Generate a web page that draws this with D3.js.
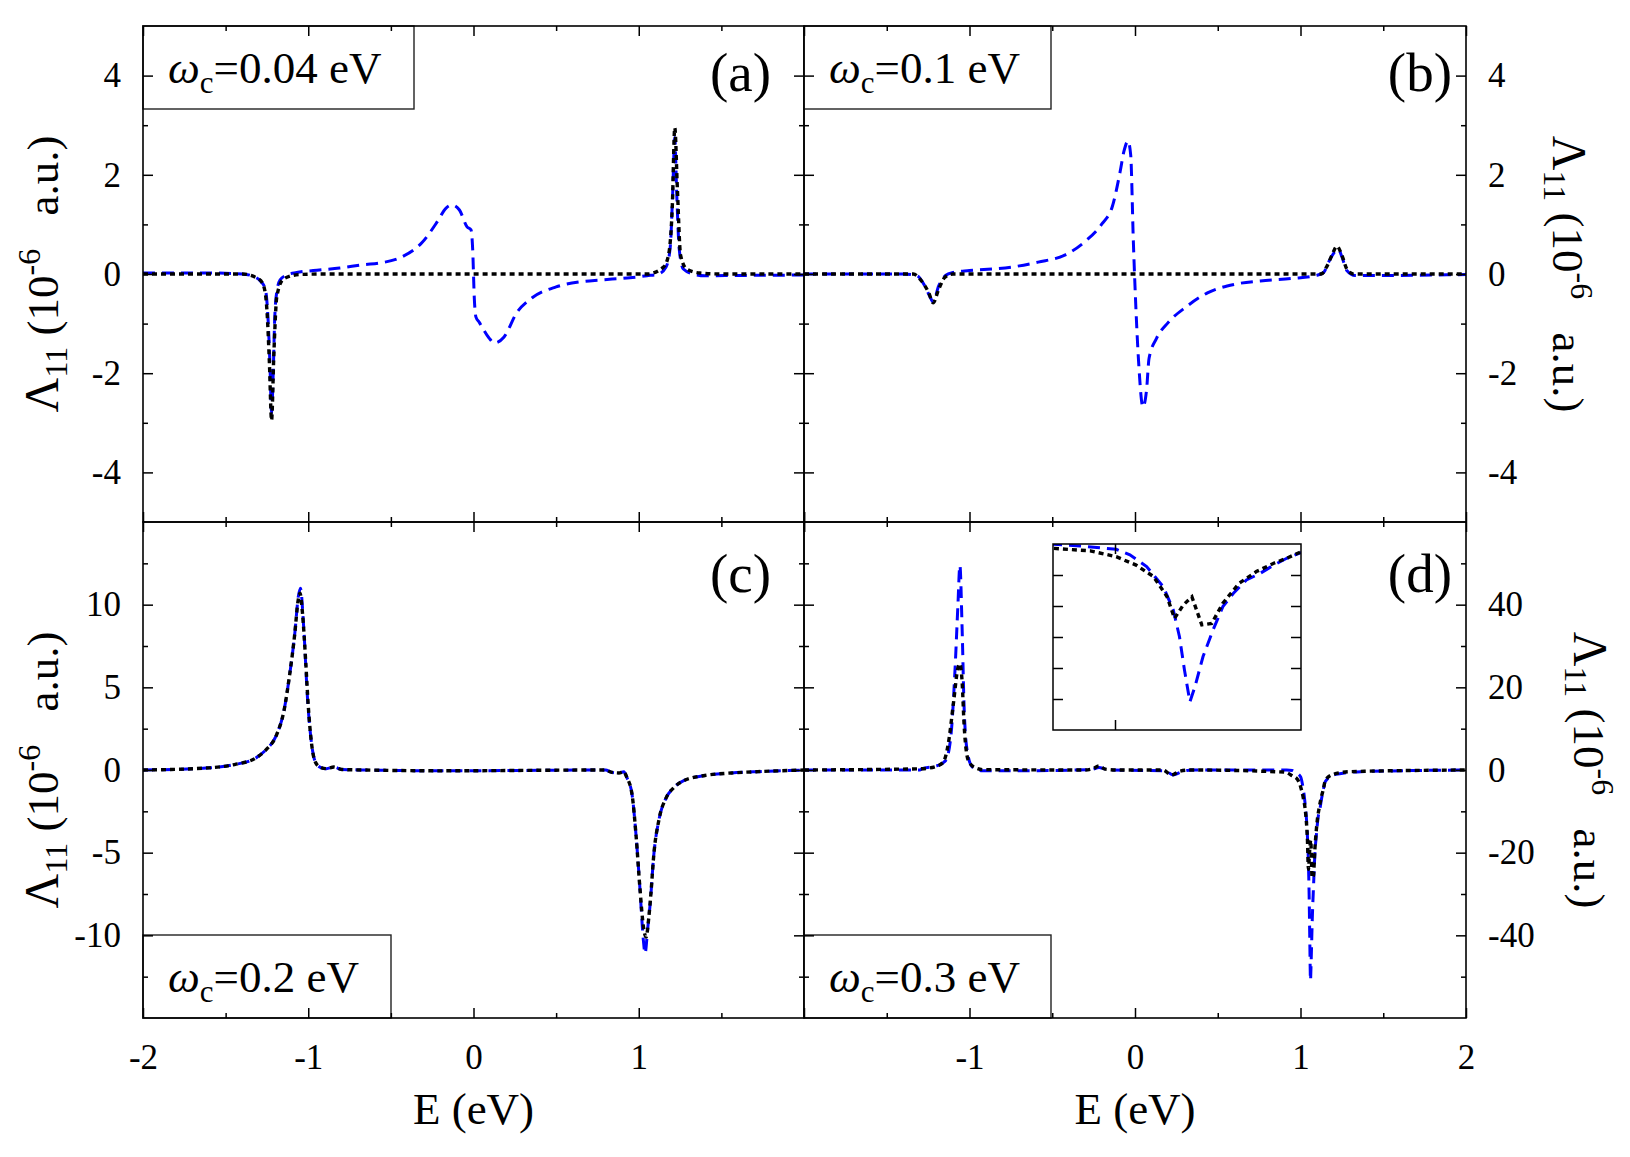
<!DOCTYPE html>
<html>
<head>
<meta charset="utf-8">
<script src="https://cdn.jsdelivr.net/npm/d3@7"></script>
<style>
  body { margin: 0; background: #fff; }
  svg text { font-family: "Liberation Serif", "Times New Roman", Times, serif !important; fill: #000; }
</style>
</head>
<body>
<div id="chart"></div>
<script>
// ---- data: [E (eV), Lambda_11 (1e-6 a.u.)] ----
const blueA = [[-2,0.02],[-1.6,0.02],[-1.4,0.0],[-1.33,-0.05],[-1.29,-0.14],[-1.26,-0.3],[-1.245,-0.8],[-1.232,-1.8],
  [-1.222,-2.8],[-1.212,-2.0],[-1.203,-0.9],[-1.19,-0.35],[-1.17,-0.12],[-1.13,-0.02],[-1.07,0.03],[-0.97,0.07],
  [-0.81,0.12],[-0.66,0.19],[-0.57,0.22],[-0.43,0.35],[-0.31,0.64],[-0.22,1.05],[-0.166,1.33],[-0.13,1.39],
  [-0.085,1.29],[-0.039,0.95],[-0.015,0.89],[-0.005,0.5],[0.005,-0.5],[0.015,-0.87],[0.034,-0.97],[0.094,-1.29],
  [0.125,-1.39],[0.185,-1.27],[0.26,-0.79],[0.355,-0.48],[0.5,-0.26],[0.64,-0.16],[0.77,-0.12],[0.93,-0.08],
  [1.05,-0.035],[1.12,0.0],[1.165,0.14],[1.19,0.52],[1.205,1.6],[1.218,2.75],[1.23,1.6],[1.245,0.5],[1.27,0.1],
  [1.33,0.0],[1.4,-0.035],[1.6,-0.03],[2,-0.02]];
const blackA = [[-2,0],[-1.4,0],[-1.3,-0.1],[-1.27,-0.24],[-1.25,-0.73],[-1.235,-1.8],[-1.222,-2.95],[-1.208,-1.6],
  [-1.19,-0.45],[-1.15,-0.1],[-1.05,-0.01],[-0.9,0],[1.05,0],[1.15,0.14],[1.18,0.38],[1.203,1.36],[1.218,2.95],
  [1.234,1.7],[1.253,0.38],[1.29,0.1],[1.37,0.02],[1.5,0],[2,0]];

const blueB = [[-2,0],[-1.4,0],[-1.32,-0.03],[-1.27,-0.24],[-1.24,-0.45],[-1.22,-0.56],[-1.186,-0.24],[-1.145,-0.03],
  [-1.1,0.03],[-1.0,0.07],[-0.745,0.14],[-0.585,0.24],[-0.425,0.38],[-0.3,0.66],[-0.2,1.01],[-0.137,1.36],
  [-0.09,2.06],[-0.067,2.47],[-0.042,2.68],[-0.026,2.4],[-0.01,0.66],[0.006,-0.73],[0.022,-1.78],[0.048,-2.68],
  [0.07,-2.33],[0.085,-1.7],[0.13,-1.3],[0.2,-0.98],[0.31,-0.66],[0.438,-0.38],[0.598,-0.21],[0.757,-0.14],
  [0.949,-0.09],[1.093,-0.03],[1.14,0.03],[1.17,0.24],[1.208,0.45],[1.23,0.49],[1.25,0.35],[1.28,0.07],
  [1.33,-0.03],[1.5,-0.03],[2,-0.01]];
const blackB = [[-2,0],[-1.34,0],[-1.29,-0.14],[-1.246,-0.38],[-1.22,-0.58],[-1.186,-0.31],[-1.15,-0.07],[-1.1,0],
  [1.125,0],[1.157,0.14],[1.19,0.38],[1.22,0.56],[1.25,0.38],[1.28,0.1],[1.32,0],[2,0]];

const blueC = [[-2,0],[-1.6,0.13],[-1.446,0.33],[-1.32,0.71],[-1.256,1.22],[-1.193,2.1],[-1.146,3.63],[-1.114,5.66],
  [-1.082,8.2],[-1.06,10.5],[-1.047,11.0],[-1.028,8.7],[-1.003,4.1],[-0.98,1.6],[-0.956,0.46],[-0.924,0.15],
  [-0.89,0.08],[-0.845,0.18],[-0.797,0.03],[-0.655,0],[-0.2,-0.05],[0.8,0],[0.832,-0.13],[0.88,-0.18],[0.91,-0.1],
  [0.927,-0.43],[0.959,-1.45],[0.984,-4],[1.006,-7.0],[1.028,-10.3],[1.038,-11.1],[1.055,-9.5],[1.07,-8.0],
  [1.09,-5.25],[1.123,-2.97],[1.165,-1.7],[1.212,-1.07],[1.275,-0.63],[1.4,-0.33],[1.56,-0.18],[1.72,-0.1],[2,0]];
const blackC = [[-2,0],[-1.6,0.13],[-1.446,0.33],[-1.32,0.71],[-1.256,1.22],[-1.193,2.1],[-1.146,3.63],[-1.114,5.66],
  [-1.082,8.2],[-1.062,10.2],[-1.05,10.7],[-1.035,9.5],[-1.015,6.5],[-1.0,3.9],[-0.98,1.6],[-0.956,0.46],
  [-0.924,0.15],[-0.89,0.08],[-0.845,0.18],[-0.797,0.03],[-0.655,0],[-0.2,-0.05],[0.8,0],[0.832,-0.13],
  [0.88,-0.18],[0.91,-0.1],[0.927,-0.43],[0.959,-1.45],[0.984,-4],[1.006,-7.0],[1.03,-9.6],[1.045,-10.1],
  [1.06,-9.0],[1.075,-7.3],[1.09,-5.25],[1.123,-2.97],[1.165,-1.7],[1.212,-1.07],[1.275,-0.63],[1.4,-0.33],
  [1.56,-0.18],[1.72,-0.1],[2,0]];

const blueD = [[-2,0],[-1.3,0],[-1.288,0.3],[-1.19,1.1],[-1.144,2.3],[-1.112,8.4],[-1.087,24.7],[-1.07,39.9],
  [-1.058,49.5],[-1.045,34.8],[-1.032,14.5],[-1.013,4.4],[-0.984,0.8],[-0.92,-0.2],[-0.745,-0.2],[-0.265,0.1],
  [-0.217,0.6],[-0.185,0.3],[-0.137,0],[0.182,-0.2],[0.23,-1.2],[0.278,-0.5],[0.342,0],[0.917,0],
  [0.95,-0.1],[0.972,-0.65],[1.001,-1.7],[1.012,-3.5],[1.0255,-7.3],[1.039,-13.8],[1.047,-21.3],[1.052,-29.9],
  [1.056,-40.6],[1.0604,-50.9],[1.0645,-46],[1.071,-36.3],[1.079,-27.8],[1.087,-20.2],[1.0955,-15.9],
  [1.106,-11.6],[1.117,-9.5],[1.128,-6.8],[1.1385,-4.6],[1.15,-2.8],[1.2,-1.2],[1.237,-0.9],[1.365,-0.4],[2,0]];
const blackD = [[-2,0],[-1.29,0.3],[-1.208,0.8],[-1.16,1.8],[-1.128,6.4],[-1.096,16.5],[-1.07,24.7],[-1.058,25.7],
  [-1.045,21.6],[-1.032,10.5],[-1.007,2.3],[-0.968,0.6],[-0.92,0.1],[-0.3,0],[-0.25,0.4],[-0.217,1.0],[-0.18,0.2],
  [-0.1,0],[0.17,0],[0.22,-1.2],[0.27,-0.3],[0.33,0],[0.9,-0.5],[0.95,-1.4],[0.98,-2.2],[1.001,-4.1],
  [1.017,-6.8],[1.031,-10.5],[1.042,-17],[1.048,-24],[1.055,-19.7],[1.062,-17],[1.07,-26.1],[1.078,-25.6],
  [1.087,-19.1],[1.1,-12.7],[1.114,-8.9],[1.128,-6.2],[1.1385,-4.6],[1.15,-2.5],[1.2,-1.0],[1.3,-0.4],[2,0]];

// ticks and labels
const xMajor = [-2, -1, 0, 1, 2];
const xMinor = [-1.5, -0.5, 0.5, 1.5];
const xLabelsLeft = [-2, -1, 0, 1];
const xLabelsRight = [-1, 0, 1, 2];
const yMajorTop = [-4, -2, 0, 2, 4];
const yMinorTop = [-3, -1, 1, 3];
const yMajorC = [-10, -5, 0, 5, 10];
const yMinorC = [-12.5, -7.5, -2.5, 2.5, 7.5, 12.5];
const yMajorD = [-40, -20, 0, 20, 40];
const yMinorD = [-50, -30, -10, 10, 30, 50];
const insetYTicks = [-50, -40, -30, -20, -10];
const insetXTicks = [1.0];
const wcLabels = ["0.04", "0.1", "0.2", "0.3"];
const panelTags = ["(a)", "(b)", "(c)", "(d)"];

// ---- layout ----
const W = 1630, H = 1157;
const X0 = 143, XM = 804, X1 = 1466;
const Y0 = 26, YM = 522, Y1 = 1018;
const BLUE = "#0000ff";
const SERIF = '"Liberation Serif", "Times New Roman", Times, serif';

const svg = d3.select("#chart").append("svg")
  .attr("width", W).attr("height", H)
  .attr("font-family", SERIF);

const panels = [
  {id: "a", x0: X0, x1: XM, y0: Y0, y1: YM, dom: [-5, 5], yMaj: yMajorTop, yMin: yMinorTop,
   blue: blueA, black: blackA, side: "left", xLab: null, tag: panelTags[0], tagDy: 65,
   wc: wcLabels[0], box: {w: 271, top: true}},
  {id: "b", x0: XM, x1: X1, y0: Y0, y1: YM, dom: [-5, 5], yMaj: yMajorTop, yMin: yMinorTop,
   blue: blueB, black: blackB, side: "right", xLab: null, tag: panelTags[1], tagDy: 65,
   wc: wcLabels[1], box: {w: 247, top: true}},
  {id: "c", x0: X0, x1: XM, y0: YM, y1: Y1, dom: [-15, 15], yMaj: yMajorC, yMin: yMinorC,
   blue: blueC, black: blackC, side: "left", xLab: xLabelsLeft, tag: panelTags[2], tagDy: 70,
   wc: wcLabels[2], box: {w: 248, top: false}},
  {id: "d", x0: XM, x1: X1, y0: YM, y1: Y1, dom: [-60, 60], yMaj: yMajorD, yMin: yMinorD,
   blue: blueD, black: blackD, side: "right", xLab: xLabelsRight, tag: panelTags[3], tagDy: 70,
   wc: wcLabels[3], box: {w: 247, top: false}}
];

function styleAxis(sel) {
  sel.attr("font-family", SERIF);
  sel.select(".domain").remove();
  sel.selectAll(".tick line").attr("stroke", "#000").attr("stroke-width", 1.5);
  sel.selectAll(".tick text").style("font-size", "35px").style("font-family", SERIF).attr("fill", "#000");
}

function drawCurves(g, x, y, blue, black, clipId, curve) {
  const line = d3.line().x(d => x(d[0])).y(d => y(d[1])).curve(curve);
  g.append("path").datum(blue)
    .attr("d", line).attr("clip-path", `url(#${clipId})`)
    .attr("fill", "none").attr("stroke", BLUE).attr("stroke-width", 3)
    .attr("stroke-dasharray", "12,7");
  g.append("path").datum(black)
    .attr("d", line).attr("clip-path", `url(#${clipId})`)
    .attr("fill", "none").attr("stroke", "#000").attr("stroke-width", 3.4)
    .attr("stroke-dasharray", "5,4");
}

panels.forEach(p => {
  const g = svg.append("g").attr("class", "panel-" + p.id);
  const x = d3.scaleLinear().domain([-2, 2]).range([p.x0, p.x1]);
  const y = d3.scaleLinear().domain(p.dom).range([p.y1, p.y0]);

  const clipId = "clip-" + p.id;
  svg.append("defs").append("clipPath").attr("id", clipId)
    .append("rect").attr("x", p.x0).attr("y", p.y0)
    .attr("width", p.x1 - p.x0).attr("height", p.y1 - p.y0);

  drawCurves(g, x, y, p.blue, p.black, clipId, d3.curveMonotoneX);

  // omega_c label box
  const bx = p.x0, by = p.box.top ? p.y0 : p.y1 - 83;
  g.append("rect").attr("x", bx).attr("y", by).attr("width", p.box.w).attr("height", 83)
    .attr("fill", "#fff").attr("stroke", "#222").attr("stroke-width", 1.4);
  const t = g.append("text").attr("x", bx + 25).attr("y", by + 57)
    .style("font-size", "45px").style("font-family", SERIF);
  t.append("tspan").attr("font-style", "italic").text("ω");
  t.append("tspan").attr("dy", 10).style("font-size", "31px").text("c");
  t.append("tspan").attr("dy", -10).text("=" + p.wc + " eV");

  // inset in (d)
  if (p.id === "d") {
    const ix = d3.scaleLinear().domain([0.95, 1.15]).range([1053, 1301]);
    const iy = d3.scaleLinear().domain([-60, 0]).range([730, 544]);
    svg.append("defs").append("clipPath").attr("id", "clip-inset")
      .append("rect").attr("x", 1053).attr("y", 544).attr("width", 248).attr("height", 186);
    const gi = g.append("g");
    gi.append("rect").attr("x", 1053).attr("y", 544).attr("width", 248).attr("height", 186)
      .attr("fill", "#fff");
    const inRange = d => d[0] >= 0.9 && d[0] <= 1.2;
    drawCurves(gi, ix, iy, p.blue.filter(inRange), p.black.filter(inRange), "clip-inset", d3.curveLinear);
    gi.append("rect").attr("x", 1053).attr("y", 544).attr("width", 248).attr("height", 186)
      .attr("fill", "none").attr("stroke", "#000").attr("stroke-width", 1.5);
    [[d3.axisLeft(iy), 1053], [d3.axisRight(iy), 1301]].forEach(([ax, tx]) => {
      gi.append("g").attr("transform", `translate(${tx},0)`)
        .call(ax.tickValues(insetYTicks).tickSizeInner(-10).tickSizeOuter(0).tickFormat(""))
        .call(styleAxis);
    });
    [[d3.axisBottom(ix), 730], [d3.axisTop(ix), 544]].forEach(([ax, ty]) => {
      gi.append("g").attr("transform", `translate(0,${ty})`)
        .call(ax.tickValues(insetXTicks).tickSizeInner(-10).tickSizeOuter(0).tickFormat(""))
        .call(styleAxis);
    });
  }

  // frame
  g.append("rect").attr("x", p.x0).attr("y", p.y0)
    .attr("width", p.x1 - p.x0).attr("height", p.y1 - p.y0)
    .attr("fill", "none").attr("stroke", "#000").attr("stroke-width", 1.6);

  // x ticks (bottom with labels in lower row, top mirrored)
  const labX = d => (p.xLab && p.xLab.includes(d)) ? String(d) : "";
  g.append("g").attr("transform", `translate(0,${p.y1})`)
    .call(d3.axisBottom(x).tickValues(xMajor).tickSizeInner(-10).tickSizeOuter(0)
      .tickPadding(26).tickFormat(labX))
    .call(styleAxis);
  g.append("g").attr("transform", `translate(0,${p.y1})`)
    .call(d3.axisBottom(x).tickValues(xMinor).tickSizeInner(-5).tickSizeOuter(0).tickFormat(""))
    .call(styleAxis);
  g.append("g").attr("transform", `translate(0,${p.y0})`)
    .call(d3.axisTop(x).tickValues(xMajor).tickSizeInner(-10).tickSizeOuter(0).tickFormat(""))
    .call(styleAxis);
  g.append("g").attr("transform", `translate(0,${p.y0})`)
    .call(d3.axisTop(x).tickValues(xMinor).tickSizeInner(-5).tickSizeOuter(0).tickFormat(""))
    .call(styleAxis);

  // y ticks: labelled side + mirrored side
  const lab = d => String(d);
  const outer = p.side === "left" ? [d3.axisLeft, p.x0] : [d3.axisRight, p.x1];
  const inner = p.side === "left" ? [d3.axisRight, p.x1] : [d3.axisLeft, p.x0];
  g.append("g").attr("transform", `translate(${outer[1]},0)`)
    .call(outer[0](y).tickValues(p.yMaj).tickSizeInner(-10).tickSizeOuter(0).tickPadding(22).tickFormat(lab))
    .call(styleAxis);
  g.append("g").attr("transform", `translate(${outer[1]},0)`)
    .call(outer[0](y).tickValues(p.yMin).tickSizeInner(-5).tickSizeOuter(0).tickFormat(""))
    .call(styleAxis);
  g.append("g").attr("transform", `translate(${inner[1]},0)`)
    .call(inner[0](y).tickValues(p.yMaj).tickSizeInner(-10).tickSizeOuter(0).tickFormat(""))
    .call(styleAxis);
  g.append("g").attr("transform", `translate(${inner[1]},0)`)
    .call(inner[0](y).tickValues(p.yMin).tickSizeInner(-5).tickSizeOuter(0).tickFormat(""))
    .call(styleAxis);

  // panel tag
  g.append("text")
    .attr("x", p.side === "left" ? p.x1 - 33 : p.x1 - 14)
    .attr("y", p.y0 + p.tagDy)
    .attr("text-anchor", "end").style("font-size", "55px").style("font-family", SERIF).text(p.tag);

  // y axis title
  const cy = (p.y0 + p.y1) / 2;
  const tx = p.side === "left" ? 58 : (p.id === "b" ? 1553 : 1574);
  const rot = p.side === "left" ? -90 : 90;
  const yt = g.append("text").attr("transform", `translate(${tx},${cy}) rotate(${rot})`)
    .attr("text-anchor", "middle").style("font-size", "45px").style("font-family", SERIF);
  yt.append("tspan").style("font-size", "48px").text("Λ");
  yt.append("tspan").attr("dy", 9).style("font-size", "32px").text("11");
  yt.append("tspan").attr("dy", -9).text(" (10");
  yt.append("tspan").attr("dy", -18).style("font-size", "32px").text("-6");
  yt.append("tspan").attr("dy", 18).attr("dx", 22).text(" a.u.)");

  // x axis title
  if (p.xLab) {
    g.append("text").attr("x", (p.x0 + p.x1) / 2).attr("y", 1124)
      .attr("text-anchor", "middle").style("font-size", "45px").style("font-family", SERIF)
      .text("E (eV)");
  }
});
</script>
</body>
</html>
